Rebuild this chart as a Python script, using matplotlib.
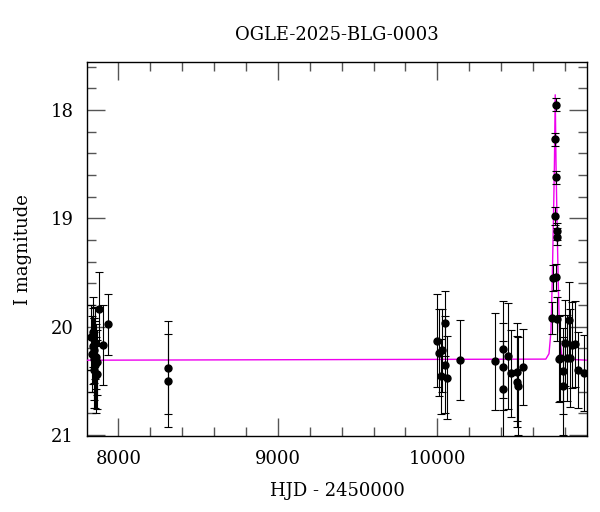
import matplotlib
matplotlib.use("Agg")
import matplotlib.pyplot as plt
from matplotlib.ticker import MultipleLocator

plt.rcParams['font.family'] = ['DejaVu Serif']

title = "OGLE-2025-BLG-0003"
xlabel = "HJD - 2450000"
ylabel = "I magnitude"

hjd = [7830, 7835, 7838, 7842, 7845, 7848, 7850, 7853, 7855, 7858, 7862, 7866, 7868,
       7881, 7906, 7934,
       8313, 8313,
       9996, 10011, 10021, 10028, 10048, 10048, 10059, 10142,
       10362, 10410, 10410, 10410, 10445, 10462, 10502, 10502, 10504, 10539,
       10717, 10723, 10736, 10738, 10742, 10742, 10744, 10749, 10749, 10749,
       10765, 10769, 10790, 10790, 10800, 10811, 10828, 10832, 10842, 10863, 10884, 10920]
mag = [20.10, 20.25, 20.18, 20.05, 20.30, 20.40, 20.22, 20.15, 20.35, 20.45, 20.28, 20.44, 20.33,
       19.84, 20.17, 19.98,
       20.38, 20.50,
       20.13, 20.24, 20.46, 20.22, 19.97, 20.35, 20.47, 20.31,
       20.32, 20.21, 20.37, 20.58, 20.27, 20.43, 20.42, 20.51, 20.55, 20.37,
       19.92, 19.55, 18.98, 18.27, 17.95, 18.62, 19.54, 19.12, 19.17, 19.93,
       20.30, 20.29, 20.41, 20.55, 20.15, 20.29, 19.94, 20.29, 20.17, 20.16, 20.40, 20.43]
err = [0.30, 0.35, 0.35, 0.32, 0.38, 0.35, 0.30, 0.33, 0.40, 0.35, 0.30, 0.32, 0.30,
       0.34, 0.37, 0.28,
       0.43, 0.43,
       0.43, 0.40, 0.35, 0.38, 0.30, 0.45, 0.38, 0.37,
       0.45, 0.45, 0.40, 0.45, 0.49, 0.40, 0.45, 0.42, 0.45, 0.35,
       0.15, 0.12, 0.08, 0.06, 0.06, 0.06, 0.12, 0.08, 0.08, 0.20,
       0.40, 0.40, 0.40, 0.45, 0.40, 0.40, 0.35, 0.45, 0.40, 0.40, 0.35, 0.35]

model_t = [7805, 10680, 10700, 10712, 10720, 10728, 10734, 10739, 10744, 10750, 10758, 10766, 10778, 10798, 10940]
model_mag = [20.31, 20.30, 20.25, 20.05, 19.60, 19.00, 18.50, 17.86, 18.50, 19.00, 19.60, 20.05, 20.25, 20.30, 20.31]

fig = plt.figure(figsize=(6.0, 5.12), dpi=100)
ax = fig.add_axes([0.1455, 0.1484, 0.8333, 0.7299])

ax.plot(model_t, model_mag, color='#ee00ee', lw=1.0, zorder=3)
ax.errorbar(hjd, mag, yerr=err, fmt='o', color='black', ms=5, ecolor='black',
            elinewidth=0.8, capsize=3, capthick=0.8, zorder=4)

ax.set_xlim(7805, 10940)
ax.set_ylim(21.01, 17.56)

ax.xaxis.set_major_locator(MultipleLocator(1000))
ax.xaxis.set_minor_locator(MultipleLocator(200))
ax.yaxis.set_major_locator(MultipleLocator(1))
ax.yaxis.set_minor_locator(MultipleLocator(0.2))

ax.tick_params(which='both', direction='in', top=True, right=True, color='#555555',
               labelsize=13, pad=10)
ax.tick_params(which='major', length=13, width=1.0)
ax.tick_params(which='minor', length=6.5, width=1.0)
for s in ax.spines.values():
    s.set_linewidth(1.0)

ax.set_title(title, fontsize=13, pad=16)
ax.set_xlabel(xlabel, fontsize=13, labelpad=10)
ax.set_ylabel(ylabel, fontsize=13, labelpad=13)

fig.savefig("out.png", dpi=100)
